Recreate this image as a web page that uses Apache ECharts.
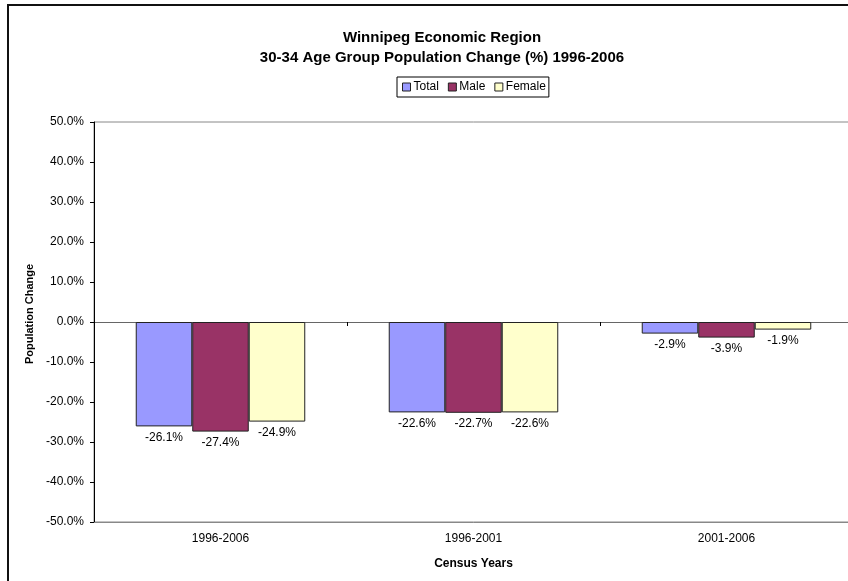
<!DOCTYPE html>
<html>
<head>
<meta charset="utf-8">
<script src="https://cdn.jsdelivr.net/npm/echarts@6/dist/echarts.min.js"></script>
<style>
  html, body { margin: 0; padding: 0; background: #fff; overflow: hidden; }
  #chart { width: 870px; height: 581px; }
</style>
</head>
<body>
<div id="chart"></div>
<script>
// Census periods and percentage change in the 30-34 age group
const categories = ['1996-2006', '1996-2001', '2001-2006'];
const totalChange = [-26.1, -22.6, -2.9];
const maleChange = [-27.4, -22.7, -3.9];
const femaleChange = [-24.9, -22.6, -1.9];
const seriesNames = ['Total', 'Male', 'Female'];
const seriesColors = ['#9999FF', '#993366', '#FFFFCC'];

const FONT = '"Liberation Sans", Arial, sans-serif';
const chart = echarts.init(document.getElementById('chart'), null, { renderer: 'canvas' });

function barSeries(name, data, color) {
  return {
    name: name,
    type: 'bar',
    data: data,
    barGap: '0%',
    barCategoryGap: '33%',
    itemStyle: { color: color, borderColor: '#222', borderWidth: 1 },
    label: {
      show: true,
      position: 'bottom',
      distance: 5,
      formatter: p => p.value.toFixed(1) + '%',
      color: '#000',
      fontFamily: FONT,
      fontSize: 12
    }
  };
}

chart.setOption({
  animation: false,
  backgroundColor: '#fff',
  textStyle: { fontFamily: FONT },
  graphic: [{
    type: 'rect',
    shape: { x: 8, y: 5, width: 900, height: 700 },
    style: { fill: 'none', stroke: '#111', lineWidth: 2 },
    silent: true
  }],
  title: {
    text: 'Winnipeg Economic Region\n30-34 Age Group Population Change (%) 1996-2006',
    left: 437,
    top: 23,
    textAlign: 'center',
    textStyle: { fontFamily: FONT, fontSize: 15, fontWeight: 'bold', color: '#000', lineHeight: 20 }
  },
  legend: {
    data: seriesNames,
    left: 397,
    top: 77,
    itemWidth: 8,
    itemHeight: 8,
    itemGap: 9,
    padding: [4, 3, 4, 5],
    borderColor: '#000',
    borderWidth: 1,
    icon: 'rect',
    textStyle: { fontFamily: FONT, fontSize: 12, color: '#000', padding: [0, 0, 0, -2] },
    itemStyle: { borderColor: '#222', borderWidth: 1 }
  },
  grid: {
    left: 94,
    right: 17,
    top: 122,
    bottom: 59,
    show: true,
    borderColor: '#888',
    borderWidth: 1
  },
  xAxis: [{
    type: 'category',
    data: categories,
    position: 'bottom',
    axisLine: { onZero: false, lineStyle: { color: '#888' } },
    axisTick: { show: false },
    axisLabel: { color: '#000', fontFamily: FONT, fontSize: 12, margin: 11 },
    name: 'Census Years',
    nameLocation: 'middle',
    nameGap: 36,
    nameTextStyle: { fontFamily: FONT, fontSize: 12, fontWeight: 'bold', color: '#000' }
  }, {
    type: 'category',
    data: categories,
    position: 'bottom',
    axisLine: { onZero: true, onZeroAxisIndex: 0, lineStyle: { color: '#666' } },
    axisTick: { show: true, length: 4, lineStyle: { color: '#000' } },
    axisLabel: { show: false }
  }],
  yAxis: {
    type: 'value',
    min: -50,
    max: 50,
    interval: 10,
    splitLine: { show: false },
    axisLine: { show: true, lineStyle: { color: '#000' } },
    axisTick: { show: true, length: 4, lineStyle: { color: '#000' } },
    axisLabel: {
      color: '#000',
      fontFamily: FONT,
      fontSize: 12,
      margin: 10,
      formatter: v => v.toFixed(1) + '%'
    },
    name: 'Population Change',
    nameLocation: 'middle',
    nameGap: 59,
    nameTextStyle: { fontFamily: FONT, fontSize: 11, fontWeight: 'bold', color: '#000', padding: [0, 0, 0, 16] }
  },
  series: [
    barSeries(seriesNames[0], totalChange, seriesColors[0]),
    barSeries(seriesNames[1], maleChange, seriesColors[1]),
    barSeries(seriesNames[2], femaleChange, seriesColors[2])
  ]
});
</script>
</body>
</html>
